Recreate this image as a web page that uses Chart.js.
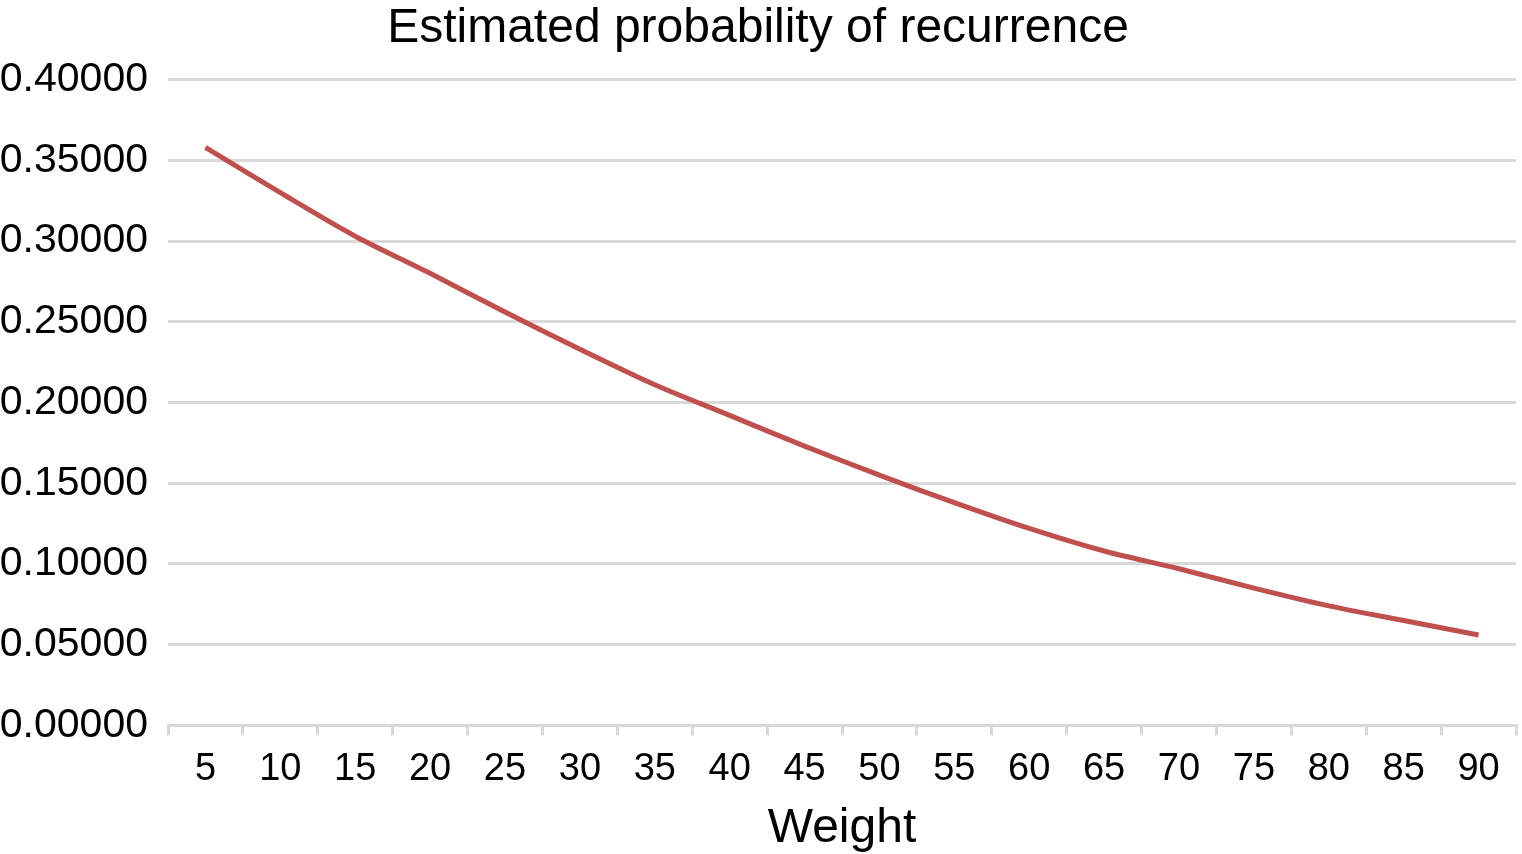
<!DOCTYPE html>
<html>
<head>
<meta charset="utf-8">
<script src="https://cdn.jsdelivr.net/npm/chart.js@4"></script>
<style>
  html, body { margin: 0; padding: 0; background: #fff; }
  #wrap { width: 1522px; height: 854px; }
</style>
</head>
<body>
<div id="wrap"><canvas id="recurrenceChart"></canvas></div>
<script>
// Données
const weights = ['5', '10', '15', '20', '25', '30', '35', '40', '45', '50',
                 '55', '60', '65', '70', '75', '80', '85', '90'];
const probabilities = [0.358, 0.330, 0.303, 0.280, 0.256, 0.233, 0.211, 0.192, 0.173,
                       0.155, 0.138, 0.122, 0.108, 0.097, 0.085, 0.074, 0.065, 0.056];
const yTicks = [0, 0.05, 0.10, 0.15, 0.20, 0.25, 0.30, 0.35, 0.40];

const font = 'Liberation Sans';

new Chart(document.getElementById('recurrenceChart'), {
    type: 'line',
    data: {
        labels: weights,
        datasets: [{
            label: 'Estimated probability of recurrence',
            data: probabilities,
            borderColor: '#c0504d',
            borderWidth: 5,
            pointRadius: 0,
            tension: 0.3,
            fill: false
        }]
    },
    options: {
        responsive: true,
        maintainAspectRatio: false,
        devicePixelRatio: 1,
        animation: false,
        layout: {
            padding: { left: 0, right: 6, top: 0, bottom: 1 }
        },
        scales: {
            x: {
                offset: true,
                grid: {
                    offset: true,
                    drawOnChartArea: false,
                    drawTicks: true,
                    tickLength: 10,
                    color: '#d9d9d9',
                    lineWidth: 3
                },
                border: {
                    color: '#d9d9d9',
                    width: 3
                },
                ticks: {
                    color: '#000',
                    padding: 11,
                    autoSkip: false,
                    maxRotation: 0,
                    font: { family: font, size: 38 }
                },
                title: {
                    display: true,
                    text: 'Weight',
                    color: '#000',
                    padding: { top: 2, bottom: 0 },
                    font: { family: font, size: 48, lineHeight: 1 }
                }
            },
            y: {
                min: 0,
                max: 0.4,
                afterBuildTicks: axis => {
                    axis.ticks = yTicks.map(v => ({ value: v }));
                },
                afterFit: axis => {
                    axis.width = 168;
                },
                grid: {
                    drawTicks: false,
                    color: '#d9d9d9',
                    lineWidth: 3
                },
                border: { display: false },
                ticks: {
                    color: '#000',
                    padding: 20,
                    callback: v => Number(v).toFixed(5),
                    font: { family: font, size: 41 }
                }
            }
        },
        plugins: {
            legend: { display: false },
            tooltip: { enabled: false },
            title: {
                display: true,
                text: 'Estimated probability of recurrence',
                color: '#000',
                padding: { top: 0, bottom: 22 },
                font: { family: font, size: 48, weight: 'normal' }
            }
        }
    }
});
</script>
</body>
</html>
